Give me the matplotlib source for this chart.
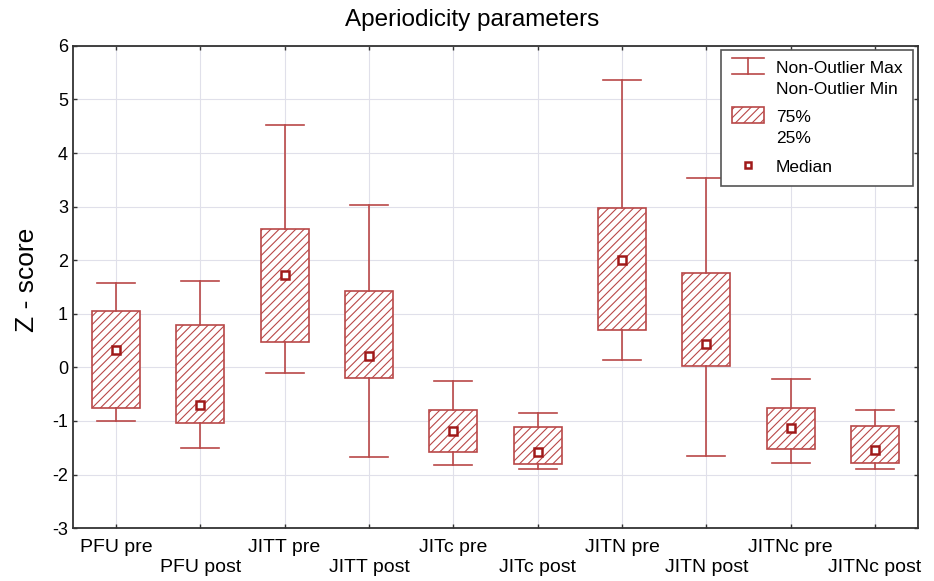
import matplotlib
matplotlib.use("Agg")
import matplotlib.pyplot as plt
from matplotlib.legend_handler import HandlerBase
from matplotlib.lines import Line2D
from matplotlib.patches import Rectangle

plt.rcParams['font.family'] = ['Liberation Sans', 'DejaVu Sans']
plt.rcParams['axes.unicode_minus'] = False
RED = '#b94848'
DARK = '#a01a1a'
plt.rcParams['hatch.color'] = RED
plt.rcParams['hatch.linewidth'] = 0.8

# values (Z-scores)
groups = ['PFU pre', 'PFU post', 'JITT pre', 'JITT post', 'JITc pre', 'JITc post',
          'JITN pre', 'JITN post', 'JITNc pre', 'JITNc post']
wmax = [1.57, 1.62, 4.53, 3.03, -0.25, -0.86, 5.36, 3.54, -0.21, -0.79]
q3 = [1.05, 0.79, 2.59, 1.43, -0.79, -1.11, 2.98, 1.76, -0.75, -1.09]
med = [0.32, -0.71, 1.73, 0.21, -1.19, -1.57, 2.01, 0.43, -1.14, -1.55]
q1 = [-0.76, -1.04, 0.47, -0.19, -1.58, -1.81, 0.70, 0.03, -1.52, -1.79]
wmin = [-1.00, -1.50, -0.11, -1.67, -1.82, -1.89, 0.13, -1.66, -1.79, -1.89]

SHIFT = 0.72  # how far (in font sizes) to lift two-line legend symbols


class WhiskerHandler(HandlerBase):
    # I-shaped symbol next to the first of the two label lines
    def create_artists(self, legend, orig_handle, xdescent, ydescent,
                       width, height, fontsize, trans):
        x0 = -xdescent
        cx = x0 + width / 2
        dy = SHIFT * fontsize
        lo = -ydescent + dy
        hi = -ydescent + height + dy
        arts = [Line2D([cx, cx], [lo, hi]),
                Line2D([x0, x0 + width], [hi, hi]),
                Line2D([x0, x0 + width], [lo, lo])]
        for a in arts:
            a.set_color(RED)
            a.set_linewidth(1.2)
            a.set_transform(trans)
        return arts


class BoxHandler(HandlerBase):
    def create_artists(self, legend, orig_handle, xdescent, ydescent,
                       width, height, fontsize, trans):
        dy = SHIFT * fontsize
        r = Rectangle((-xdescent, -ydescent + dy), width, height,
                      facecolor='white', edgecolor=RED, hatch='////', linewidth=1.2)
        r.set_transform(trans)
        return [r]


fig = plt.figure(figsize=(9.34, 5.81), dpi=100)
ax = fig.add_axes([0.078, 0.091, 0.905, 0.830])

pos = list(range(len(groups)))
stats = []
for i in pos:
    stats.append({'med': med[i], 'q1': q1[i], 'q3': q3[i],
                  'whislo': wmin[i], 'whishi': wmax[i], 'fliers': []})

ax.bxp(stats, positions=pos, widths=0.57, patch_artist=True,
       boxprops=dict(facecolor='white', edgecolor=RED, hatch='////', linewidth=1.2),
       whiskerprops=dict(color=RED, linewidth=1.2),
       capprops=dict(color=RED, linewidth=1.2),
       medianprops=dict(linestyle='none'),
       capwidths=0.45, zorder=3)
ax.plot(pos, med, linestyle='none', marker='s', markersize=5.5,
        markerfacecolor='white', markeredgecolor=DARK, markeredgewidth=1.8, zorder=4)

ax.set_xlim(-0.51, 9.51)
ax.set_ylim(-3, 6)
ax.set_yticks(range(-3, 7))
ax.set_xticks(pos)
ax.set_xticklabels([g if i % 2 == 0 else '\n' + g for i, g in enumerate(groups)],
                   fontsize=14, linespacing=1.2)
ax.tick_params(axis='x', pad=8)
ax.tick_params(axis='y', labelsize=13)
ax.tick_params(direction='in', length=3, top=True, right=True, width=1, color='#333333')
ax.grid(True, color='#e0e0ea', linewidth=0.8, zorder=0)
ax.set_axisbelow(True)
for sp in ax.spines.values():
    sp.set_color('#333333')
    sp.set_linewidth(1.3)

ax.set_ylabel('Z - score', fontsize=19)
ax.yaxis.set_label_coords(-0.040, 0.514)
fig.suptitle('Aperiodicity parameters', x=0.505, y=0.966, va='center', fontsize=17.5)

h_whisk = Line2D([], [], color=RED)
h_box = Rectangle((0, 0), 1, 1)
h_med = Line2D([], [], linestyle='none', marker='s', markersize=5,
               markerfacecolor='white', markeredgecolor=DARK, markeredgewidth=1.8)
leg = ax.legend([h_whisk, h_box, h_med],
                ['Non-Outlier Max\nNon-Outlier Min', '75%\n25%', 'Median'],
                handler_map={h_whisk: WhiskerHandler(), h_box: BoxHandler()},
                loc='upper right', bbox_to_anchor=(0.994, 0.992), borderaxespad=0,
                fontsize=12.5, fancybox=False, framealpha=1, edgecolor='#555555',
                handlelength=1.8, handleheight=1.0, handletextpad=0.7,
                labelspacing=0.75, borderpad=0.62)
for t in leg.get_texts():
    t.set_linespacing(1.5)
leg.get_frame().set_linewidth(1.2)

fig.savefig('out.png', dpi=100)
